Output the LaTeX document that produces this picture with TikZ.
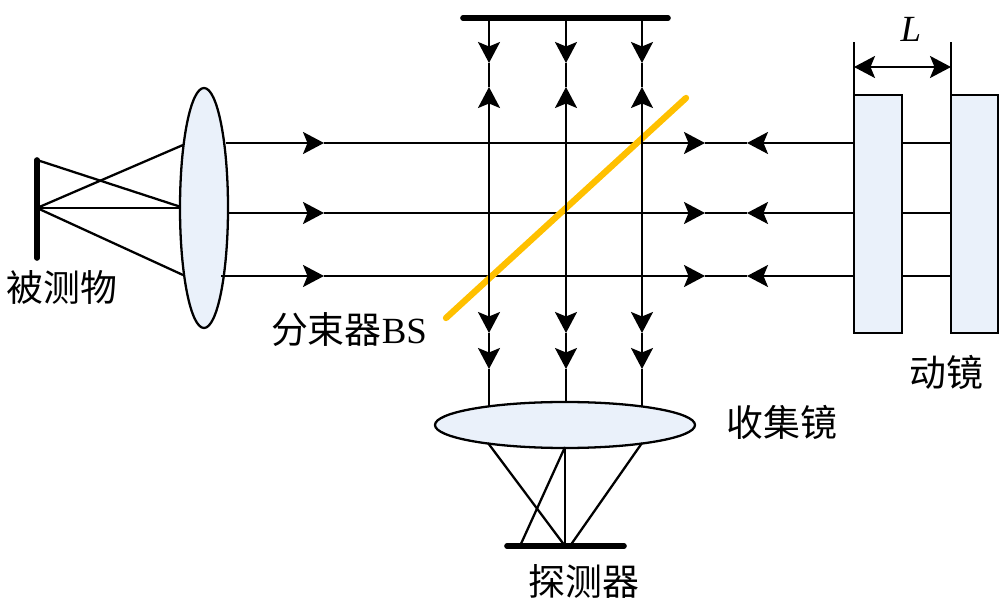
\documentclass[tikz,border=0pt]{standalone}
\usepackage{fontspec}
\setmainfont{Liberation Serif}
\newfontfamily\cjk{Noto Sans CJK SC}
\usetikzlibrary{arrows.meta}
\tikzset{>={Stealth[length=4.2mm,width=4.4mm,inset=0.9mm]}}
\definecolor{lensblue}{RGB}{234,241,250}
\definecolor{bsyellow}{RGB}{255,192,0}
\tikzset{
  ray/.style={line width=1.3pt},
  plate/.style={line width=3.2pt, line cap=round},
  glass/.style={draw, line width=1.3pt, fill=lensblue},
  lbl/.style={font=\fontsize{21}{24}\selectfont\cjk, inner sep=0pt},
}

\begin{document}
\begin{tikzpicture}[x=0.2mm, y=-0.2mm]
        \useasboundingbox (0,0) rectangle (1000,609);
        % points
        \coordinate (objtop) at (37,160);
        \coordinate (objmid) at (37,208);
        \coordinate (objbot) at (37,258);
        \coordinate (det) at (565,546);
        % object and its rays
        \draw[ray] (objtop) -- (181,207);
        \draw[ray] (objmid) -- (183,145);
        \draw[ray] (objmid) -- (181,208);
        \draw[ray] (objmid) -- (183,275);
        \draw[plate] (objtop) -- (objbot);
        % lens
        \draw[glass] (204,208) ellipse [x radius=24, y radius=120];
        % horizontal rays
        \foreach \y/\s in {143/226, 213/229, 276/221} {
          \draw[ray, ->] (\s,\y) -- (324,\y);
          \draw[ray, ->] (324,\y) -- (705,\y);
          \draw[ray] (705,\y) -- (747,\y);
          \draw[ray, <-] (747,\y) -- (854,\y);
          \draw[ray] (902,\y) -- (951,\y);
        }
        % beam splitter
        \draw[line width=3.6pt, bsyellow, line cap=round] (446,318) -- (686,98);
        % fixed mirror
        \draw[plate] (463,18) -- (668,18);
        % vertical rays
        \foreach \x in {489, 566, 642} {
          \draw[ray, ->] (\x,18) -- (\x,63);
          \draw[ray] (\x,63) -- (\x,87);
          \draw[ray, <->] (\x,87) -- (\x,333);
          \draw[ray, ->] (\x,333) -- (\x,369);
          \draw[ray] (\x,369) -- (\x,410);
        }
        % collecting lens
        \draw[glass] (565,425) ellipse [x radius=130, y radius=23];
        \draw[ray] (488,443) -- (det);
        \draw[ray] (520,546) -- (565,447);
        \draw[ray] (565,447) -- (det);
        \draw[ray] (642,443) -- (570,546);
        \draw[plate] (507,546) -- (624,546);
        % moving mirror
        \draw[glass] (854,95) rectangle (902,333);
        \draw[glass] (951,95) rectangle (998,333);
        \draw[ray] (854,95) -- (854,42);
        \draw[ray] (951,95) -- (951,42);
        \draw[ray, <->] (854,67) -- (951,67);
        % labels
        \node[font=\fontsize{21}{24}\selectfont\itshape] (L) at (911,29) {L};
        \node[lbl] (obj) at (62,287) {被测物};
        \node[lbl] (bs) at (349,330) {分束器\rmfamily BS};
        \node[lbl] (coll) at (782,422) {收集镜};
        \node[lbl] (detl) at (584,581) {探测器};
        \node[lbl] (mov) at (946,372) {动镜};
\end{tikzpicture}
\end{document}
